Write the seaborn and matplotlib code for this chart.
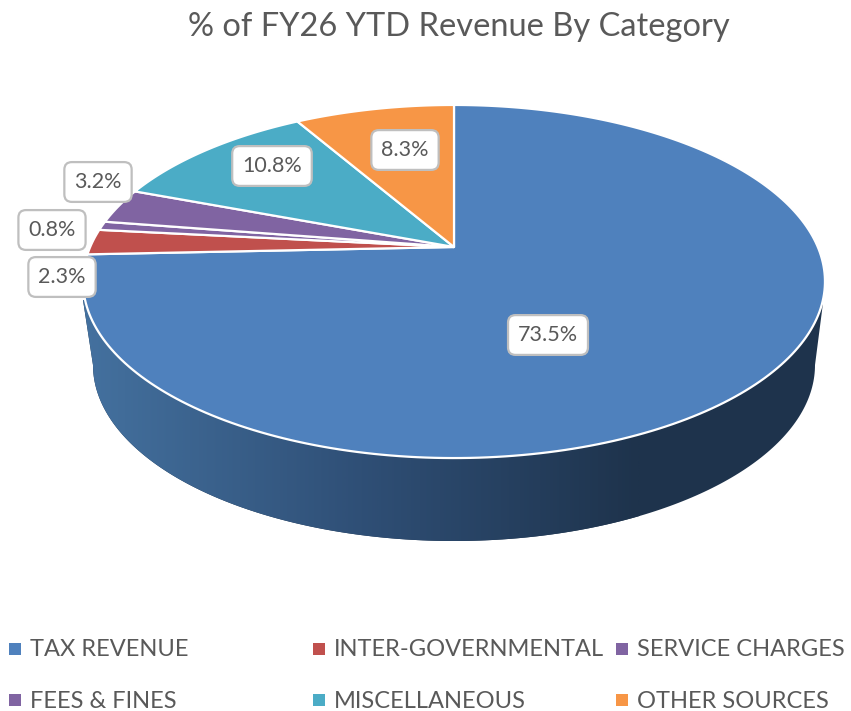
import numpy as np
import matplotlib
matplotlib.use("Agg")
import matplotlib.pyplot as plt
from matplotlib.colors import LinearSegmentedColormap
from matplotlib.patches import Polygon
import seaborn as sns

categories = ["TAX REVENUE", "INTER-GOVERNMENTAL", "SERVICE CHARGES",
              "FEES & FINES", "MISCELLANEOUS", "OTHER SOURCES"]
shares = [73.5, 2.3, 0.8, 3.2, 10.8, 8.3]
share_labels = ["73.5%", "2.3%", "0.8%", "3.2%", "10.8%", "8.3%"]
colors = ["#4f81bd", "#c0504d", "#8064a2", "#8064a2", "#4bacc6", "#f79646"]

sns.set_theme(style="white")
plt.rcParams["font.family"] = ["Lato", "DejaVu Sans"]
text_color = "#595959"

# pie tilted in perspective, so the apex sits above the centre of the ellipse
APEX_X, APEX_Y = 454, 247
RAD_X, RAD_Y, PERSP = 363.8, 169.8, -0.1955


def project(theta):
    # theta runs clockwise from twelve o'clock
    u, v = np.sin(theta), np.cos(theta)
    d = 1 - PERSP * v
    return APEX_X + RAD_X * u / d, APEX_Y - RAD_Y * v / d


fig, ax = plt.subplots(figsize=(8.51, 7.11), dpi=100)
fig.subplots_adjust(0, 0, 1, 1)

# side wall with a dark-going gradient
t = np.linspace(0, np.pi, 200)
wall = np.column_stack([454 + 361 * np.cos(t), 365 + 176 * np.sin(t)])
wall = np.vstack([wall, [[83, 300], [823, 303]]])
shade = LinearSegmentedColormap.from_list("wall", ["#44719f", "#2f4f76", "#1e334c"])
grad = ax.imshow(np.linspace(0, 1, 600)[None, :], extent=(83, 640, 541, 290),
                 aspect="auto", cmap=shade, zorder=1)
ax.fill(*wall.T, color="#1e334c", lw=0, zorder=0.9)
clip = Polygon(wall, transform=ax.transData)
grad.set_clip_path(clip)

# top face
edges = np.cumsum([0] + shares) / np.sum(shares) * 2 * np.pi
for i, cat in enumerate(categories):
    th = np.linspace(edges[i], edges[i + 1], 240)
    xs, ys = project(th)
    ax.fill(np.r_[APEX_X, xs], np.r_[APEX_Y, ys], facecolor=colors[i],
            edgecolor="white", lw=1.6, joinstyle="round", zorder=2)

# data labels
label_x = [548, 62, 52, 98, 272, 405]
label_y = [335, 277, 230, 182, 166, 150]
for s, x, y in zip(share_labels, label_x, label_y):
    ax.text(x, y, s, ha="center", va="center", fontsize=15.5, color=text_color, zorder=4,
            bbox=dict(boxstyle="round,pad=0.46,rounding_size=0.35", fc="white", ec="#bfbfbf", lw=1.6))

ax.text(459, 27, "% of FY26 YTD Revenue By Category", ha="center", va="center",
        fontsize=23.5, color=text_color)

# legend, two rows with uneven columns
leg_x = [15, 319, 622, 15, 319, 622]
leg_y = [649, 649, 649, 700, 700, 700]
sns.scatterplot(x=leg_x, y=leg_y, hue=categories, palette=colors, marker="s", s=75,
                linewidth=0, legend=False, ax=ax, zorder=3)
for cat, x, y in zip(categories, leg_x, leg_y):
    ax.text(x + 15, y + 1, cat, ha="left", va="center", fontsize=17, color=text_color)

ax.set_xlim(0, 851)
ax.set_ylim(711, 0)
ax.axis("off")
fig.savefig("out.png", dpi=100)
